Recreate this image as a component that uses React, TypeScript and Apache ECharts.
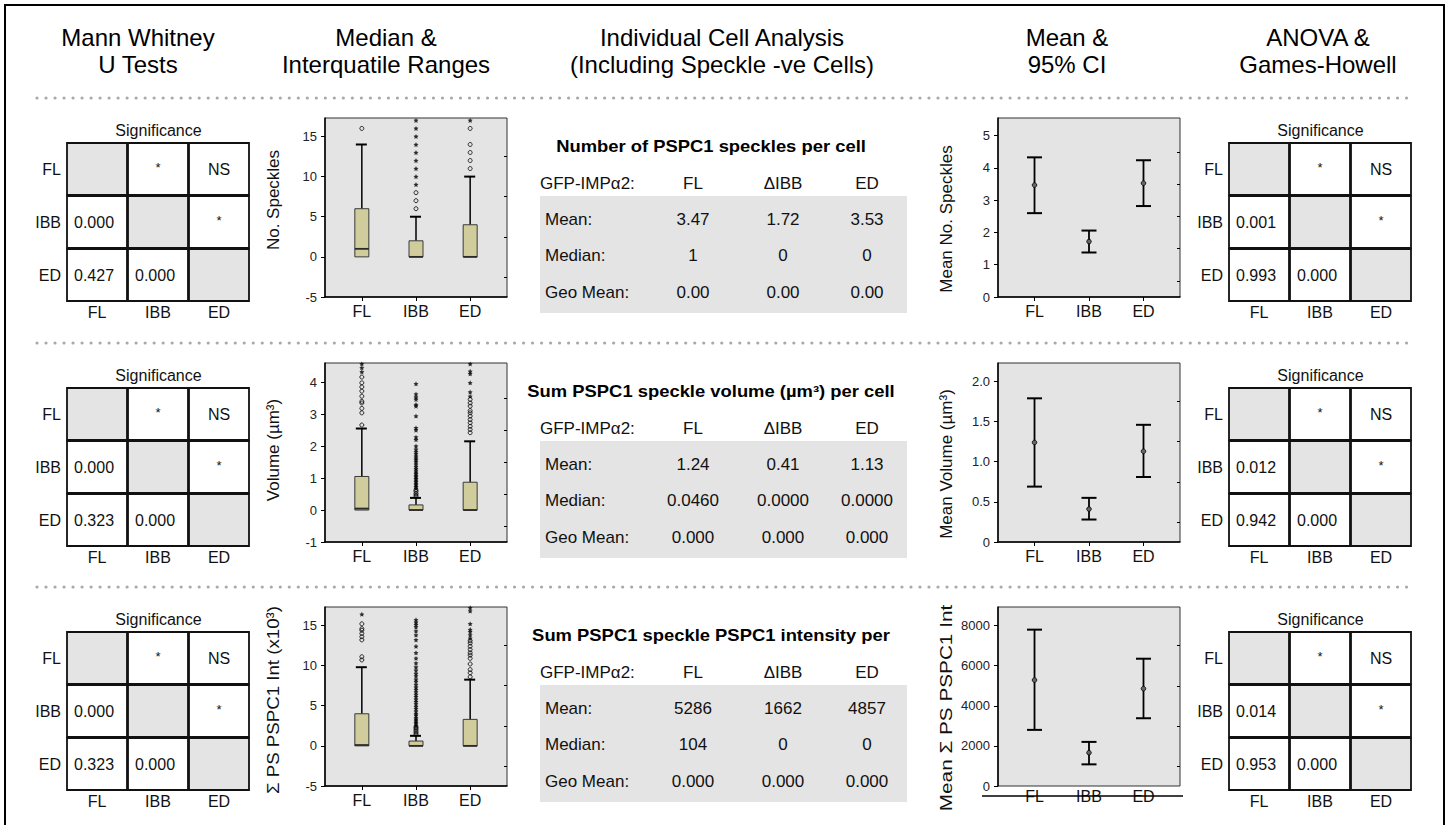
import React, { useEffect, useRef } from "react";
import * as echarts from "echarts";

const FONT = '"Liberation Sans", Arial, Helvetica, sans-serif';

// ---------- data ----------
const groups = ["FL", "IBB", "ED"];
const groupPos = [1, 2, 3];
const tableGroups = ["FL", "ΔIBB", "ED"];

const headerTexts = [
  ["Mann Whitney", "U Tests"],
  ["Median &", "Interquatile Ranges"],
  ["Individual Cell Analysis", "(Including Speckle -ve Cells)"],
  ["Mean &", "95% CI"],
  ["ANOVA &", "Games-Howell"],
];

// significance marks above the diagonal: FL–IBB, FL–ED, IBB–ED
const sigMarks = ["*", "NS", "*"];
// p values below the diagonal: IBB–FL, ED–FL, ED–IBB (one list per measure)
const mwPValues = [
  ["0.000", "0.427", "0.000"],
  ["0.000", "0.323", "0.000"],
  ["0.000", "0.323", "0.000"],
];
const ghPValues = [
  ["0.001", "0.993", "0.000"],
  ["0.012", "0.942", "0.000"],
  ["0.014", "0.953", "0.000"],
];

const tableTitles = [
  "Number of PSPC1 speckles per cell",
  "Sum PSPC1 speckle volume (µm³) per cell",
  "Sum PSPC1 speckle PSPC1 intensity per",
];
const statLabels = ["Mean:", "Median:", "Geo Mean:"];
const speckStats = [["3.47", "1.72", "3.53"], ["1", "0", "0"], ["0.00", "0.00", "0.00"]];
const volumeStats = [["1.24", "0.41", "1.13"], ["0.0460", "0.0000", "0.0000"], ["0.000", "0.000", "0.000"]];
const intensityStats = [["5286", "1662", "4857"], ["104", "0", "0"], ["0.000", "0.000", "0.000"]];

const boxTitles = ["No. Speckles", "Volume (µm³)", "Σ PS PSPC1 Int (x10³)"];
const meanTitles = ["Mean No. Speckles", "Mean Volume (µm³)", "Mean Σ PS PSPC1 Int"];

// box plots: [group, min, q1, median, q3, max]
const speckBox = [[1, 0, 0, 1, 6, 14], [2, 0, 0, 0, 2, 5], [3, 0, 0, 0, 4, 10]];
const speckCircles = [[1, 16], [2, 6], [2, 7], [2, 8], [3, 11], [3, 12], [3, 13], [3, 14], [3, 16]];
const speckStars = [[2, 9], [2, 10], [2, 11], [2, 12], [2, 13], [2, 14], [2, 15], [2, 16], [2, 17], [3, 17]];

const volumeBox = [[1, 0, 0, 0.046, 1.05, 2.55], [2, 0, 0, 0, 0.16, 0.38], [3, 0, 0, 0, 0.87, 2.15]];
const volumeCircles = [
  [1, 2.66], [1, 3.04], [1, 3.18], [1, 3.35], [1, 3.4], [1, 3.56], [1, 3.72], [1, 3.85], [1, 3.98], [1, 4.16],
  [2, 0.42], [2, 0.47], [2, 0.52], [2, 0.58], [2, 0.63],
  [3, 2.42], [3, 2.52], [3, 2.62], [3, 2.73], [3, 2.83], [3, 2.94], [3, 3.04], [3, 3.11], [3, 3.25], [3, 3.35], [3, 3.46],
];
const volumeStars = [
  [1, 4.32], [1, 4.45], [1, 4.57],
  [2, 0.68], [2, 0.73], [2, 0.78], [2, 0.83], [2, 0.88], [2, 0.93], [2, 0.98], [2, 1.03], [2, 1.08], [2, 1.13],
  [2, 1.18], [2, 1.24], [2, 1.3], [2, 1.36], [2, 1.43], [2, 1.5], [2, 1.56], [2, 1.62], [2, 1.68], [2, 1.75],
  [2, 1.82], [2, 1.9], [2, 2.0], [2, 2.2], [2, 2.28], [2, 2.5], [2, 2.57], [2, 2.94], [2, 3.25], [2, 3.3],
  [2, 3.46], [2, 3.53], [2, 3.63], [2, 3.95],
  [3, 3.56], [3, 3.69], [3, 3.98], [3, 4.26], [3, 4.34], [3, 4.57],
];

const intensityBox = [[1, 0, 0, 0.104, 4.0, 9.8], [2, 0, 0, 0, 0.6, 1.25], [3, 0, 0, 0, 3.3, 8.25]];
const intensityCircles = [
  [1, 10.7], [1, 11.1], [1, 13.2], [1, 13.6], [1, 14.0], [1, 14.4], [1, 14.6], [1, 15.2],
  [2, 1.4], [2, 1.6], [2, 1.8], [2, 2.0], [2, 2.2], [2, 2.35],
  [3, 8.6], [3, 9.1], [3, 9.5], [3, 10.2], [3, 10.9], [3, 11.3], [3, 11.6], [3, 12.0], [3, 12.4], [3, 12.8], [3, 13.1],
];
const intensityStars = [
  [1, 16.4],
  [2, 2.5], [2, 2.7], [2, 2.9], [2, 3.1], [2, 3.3], [2, 3.5], [2, 3.8], [2, 4.0], [2, 4.3], [2, 4.6], [2, 4.9],
  [2, 5.2], [2, 5.5], [2, 5.8], [2, 6.1], [2, 6.4], [2, 6.7], [2, 7.0], [2, 7.3], [2, 7.6], [2, 8.0], [2, 8.3],
  [2, 8.7], [2, 9.0], [2, 9.4], [2, 9.8], [2, 10.3], [2, 10.9], [2, 11.6], [2, 12.4], [2, 13.2], [2, 13.8],
  [2, 14.3], [2, 14.8], [2, 15.1], [2, 15.4], [2, 15.7],
  [3, 13.4], [3, 13.8], [3, 14.2], [3, 14.5], [3, 15.2], [3, 16.8], [3, 17.2],
];

// means with 95% CI: [group, mean, lower, upper]
const speckMeanCI = [[1, 3.47, 2.6, 4.33], [2, 1.72, 1.38, 2.06], [3, 3.53, 2.82, 4.24]];
const volumeMeanCI = [[1, 1.24, 0.69, 1.79], [2, 0.41, 0.28, 0.55], [3, 1.13, 0.81, 1.46]];
const intensityMeanCI = [[1, 5286, 2800, 7800], [2, 1662, 1080, 2200], [3, 4857, 3380, 6350]];

// axis ticks
const speckBoxTicks = [-5, 0, 5, 10, 15];
const speckBoxMinor = [-2.5, 2.5, 7.5, 12.5];
const volumeBoxTicks = [-1, 0, 1, 2, 3, 4];
const volumeBoxMinor = [-0.5, 0.5, 1.5, 2.5, 3.5];
const intensityBoxTicks = [-5, 0, 5, 10, 15];
const intensityBoxMinor = [-2.5, 2.5, 7.5, 12.5];
const speckMeanTicks = [0, 1, 2, 3, 4, 5];
const speckMeanMinor = [0.5, 1.5, 2.5, 3.5, 4.5];
const volumeMeanTicks = [0, 0.5, 1.0, 1.5, 2.0];
const volumeMeanMinor = [0.25, 0.75, 1.25, 1.75];
const intensityMeanTicks = [0, 2000, 4000, 6000, 8000];
const intensityMeanMinor = [1000, 3000, 5000, 7000];

// ---------- layout ----------
const ROW_Y = [98, 343, 587];
const BOX_LEFT = 325;
const MEAN_LEFT = 998;
const PLOT_W = 182;
const PLOT_H = 179;
const MW_X = 67;
const GH_X = 1229;
const CELL_W = 61;
const CELL_H = 53;
const HEADER_X = [138, 386, 722, 1067, 1318];
const TABLE_X = 540;
const TABLE_W = 367;
const TABLE_COLS = [693, 783, 867];
const BOX_TITLE_DY = [102, 107, 113];
const BOX_TITLE_SX = [1, 1, 1.1];
const MEAN_TITLE_SX = [1, 1, 1.22];

const BG = "#e4e4e4";
const STAR = "path://M0,-10L2.9,-4L9.5,-3.1L4.8,1.5L5.9,8.1L0,5L-5.9,8.1L-4.8,1.5L-9.5,-3.1L-2.9,-4Z";

function T(x: number, y: number, text: string, size: number, o: any = {}) {
  return {
    type: "text",
    x,
    y,
    silent: true,
    rotation: o.rotation || 0,
    scaleX: o.scaleX || 1,
    style: {
      text,
      fontSize: size,
      fontFamily: FONT,
      fontWeight: o.weight || "normal",
      fill: o.fill || "#111",
      textAlign: o.align || "center",
      textVerticalAlign: "middle",
    },
  };
}

function renderBox(params: any, api: any) {
  const x = api.value(0);
  const c = (v: number) => api.coord([x, v]);
  const [cx, yMin] = c(api.value(1));
  const yQ1 = c(api.value(2))[1];
  const yMed = c(api.value(3))[1];
  const yQ3 = c(api.value(4))[1];
  const yMax = c(api.value(5))[1];
  const hw = 7;
  const children: any[] = [
    { type: "line", shape: { x1: cx, y1: yQ3, x2: cx, y2: yMax }, style: { stroke: "#000", lineWidth: 1.5 } },
    { type: "line", shape: { x1: cx - 6, y1: yMax, x2: cx + 5, y2: yMax }, style: { stroke: "#000", lineWidth: 2 } },
  ];
  if (yMin - yQ1 > 0.5) {
    children.push({ type: "line", shape: { x1: cx, y1: yQ1, x2: cx, y2: yMin }, style: { stroke: "#000", lineWidth: 1.5 } });
    children.push({ type: "line", shape: { x1: cx - 6, y1: yMin, x2: cx + 5, y2: yMin }, style: { stroke: "#000", lineWidth: 2 } });
  }
  children.push({
    type: "rect",
    shape: { x: cx - hw, y: yQ3, width: hw * 2, height: Math.max(yQ1 - yQ3, 1) },
    style: { fill: "#d0cc9c", stroke: "#3a3a3a", lineWidth: 1 },
  });
  children.push({ type: "line", shape: { x1: cx - hw, y1: yMed, x2: cx + hw, y2: yMed }, style: { stroke: "#2a2a2a", lineWidth: 1.8 } });
  return { type: "group", children };
}

function renderMean(params: any, api: any) {
  const x = api.value(0);
  const [cx, yM] = api.coord([x, api.value(1)]);
  const yLo = api.coord([x, api.value(2)])[1];
  const yHi = api.coord([x, api.value(3)])[1];
  const hw = 7.5;
  return {
    type: "group",
    children: [
      { type: "line", shape: { x1: cx, y1: yLo, x2: cx, y2: yHi }, style: { stroke: "#000", lineWidth: 1.8 } },
      { type: "line", shape: { x1: cx - hw, y1: yHi, x2: cx + hw, y2: yHi }, style: { stroke: "#000", lineWidth: 2 } },
      { type: "line", shape: { x1: cx - hw, y1: yLo, x2: cx + hw, y2: yLo }, style: { stroke: "#000", lineWidth: 2 } },
      { type: "circle", shape: { cx, cy: yM, r: 2.3 }, style: { fill: "#666", stroke: "#000", lineWidth: 0.8 } },
    ],
  };
}

function buildOption() {
  const grids: any[] = [];
  const xAxes: any[] = [];
  const yAxes: any[] = [];
  const series: any[] = [];
  const els: any[] = [];

  const addGrid = (left: number, top: number, xMin: number, xMax: number, yCfg: any, shifted = false) => {
    const gi = grids.length;
    grids.push({
      left, top, width: PLOT_W, height: PLOT_H, show: true,
      backgroundColor: BG, borderColor: "#333", borderWidth: 1, containLabel: false,
    });
    xAxes.push({
      type: "value", gridIndex: gi, min: xMin, max: xMax,
      offset: shifted ? 10 : 0,
      axisLine: { show: !shifted, onZero: false, lineStyle: { color: "#000", width: 1.5 } },
      axisTick: { show: !shifted, customValues: groupPos, length: 4, lineStyle: { color: "#000" } },
      axisLabel: {
        customValues: groupPos, margin: shifted ? -8 : 6, fontSize: 16, color: "#111", fontFamily: FONT,
        formatter: (v: number) => groups[Math.round(v) - 1] || "",
      },
      splitLine: { show: false },
    });
    const yi = yAxes.length;
    yAxes.push({
      type: "value", gridIndex: gi, min: yCfg.min, max: yCfg.max,
      axisLine: { show: true, onZero: false, lineStyle: { color: "#000", width: 1.5 } },
      axisTick: { show: true, customValues: yCfg.ticks, length: 4, lineStyle: { color: "#000" } },
      axisLabel: {
        customValues: yCfg.ticks, margin: 8, fontSize: 13, color: "#222", fontFamily: FONT,
        formatter: yCfg.fmt || ((v: number) => String(v)),
      },
      splitLine: { show: false },
    });
    yAxes.push({
      type: "value", gridIndex: gi, min: yCfg.min, max: yCfg.max,
      axisLine: { show: false, onZero: false },
      axisTick: { show: true, inside: true, customValues: yCfg.minor, length: 3, lineStyle: { color: "#000" } },
      axisLabel: { show: false },
      splitLine: { show: false },
    });
    return { gi, yi };
  };

  const rows = [
    {
      box: speckBox, circles: speckCircles, stars: speckStars, mean: speckMeanCI, stats: speckStats,
      boxY: { min: -5, max: 17.3, ticks: speckBoxTicks, minor: speckBoxMinor },
      meanY: { min: 0, max: 5.55, ticks: speckMeanTicks, minor: speckMeanMinor },
    },
    {
      box: volumeBox, circles: volumeCircles, stars: volumeStars, mean: volumeMeanCI, stats: volumeStats,
      boxY: { min: -1, max: 4.6, ticks: volumeBoxTicks, minor: volumeBoxMinor },
      meanY: {
        min: 0, max: 2.23, ticks: volumeMeanTicks, minor: volumeMeanMinor,
        fmt: (v: number) => (v === 0 ? "0" : v.toFixed(1)),
      },
    },
    {
      box: intensityBox, circles: intensityCircles, stars: intensityStars, mean: intensityMeanCI, stats: intensityStats,
      boxY: { min: -5, max: 17.3, ticks: intensityBoxTicks, minor: intensityBoxMinor },
      meanY: { min: 0, max: 8930, ticks: intensityMeanTicks, minor: intensityMeanMinor },
    },
  ];

  // frame
  els.push({ type: "rect", silent: true, shape: { x: 5, y: 5, width: 1439, height: 840 }, style: { fill: "none", stroke: "#000", lineWidth: 2 } });

  // headers
  headerTexts.forEach((lines, i) => {
    els.push(T(HEADER_X[i], 37, lines[0], 24, { fill: "#000" }));
    els.push(T(HEADER_X[i], 64, lines[1], 24, { fill: "#000" }));
  });

  rows.forEach((row, r) => {
    const D = ROW_Y[r];
    const top = D + 20;

    // dotted separator
    els.push({
      type: "line", silent: true,
      shape: { x1: 37, y1: D, x2: 1412, y2: D },
      style: { stroke: "#a9a9a9", lineWidth: 3.2, lineDash: [0.01, 9], lineCap: "round" },
    });

    // significance matrices
    [[MW_X, mwPValues[r]], [GH_X, ghPValues[r]]].forEach(([x0, pv]: any) => {
      els.push(T(x0 + 91.5, D + 32, "Significance", 16));
      for (let i = 0; i < 3; i++) {
        for (let j = 0; j < 3; j++) {
          const cx = x0 + j * CELL_W;
          const cy = D + 45 + i * CELL_H;
          els.push({
            type: "rect", silent: true,
            shape: { x: cx, y: cy, width: CELL_W - 1, height: CELL_H - 1 },
            style: { fill: i === j ? BG : "#fff", stroke: "#111", lineWidth: 1.8 },
          });
        }
      }
      for (let i = 0; i < 3; i++) {
        els.push(T(x0 - 6, D + 45 + i * CELL_H + 26, groups[i], 16, { align: "right" }));
        els.push(T(x0 + i * CELL_W + 30, D + 214, groups[i], 16));
      }
      const upper = [[0, 1], [0, 2], [1, 2]];
      upper.forEach(([i, j], k) => {
        const isStar = sigMarks[k] === "*";
        els.push(T(x0 + j * CELL_W + 30, D + 45 + i * CELL_H + (isStar ? 24 : 26), sigMarks[k], isStar ? 13 : 16));
      });
      const lower = [[1, 0], [2, 0], [2, 1]];
      lower.forEach(([i, j], k) => {
        els.push(T(x0 + j * CELL_W + 7, D + 45 + i * CELL_H + 26, pv[k], 16, { align: "left" }));
      });
    });

    // table
    els.push(T(711, D + 48, tableTitles[r], 16, { weight: "bold", fill: "#000", scaleX: 1.15 }));
    els.push(T(TABLE_X, D + 85, "GFP-IMPα2:", 17, { align: "left" }));
    tableGroups.forEach((g, j) => els.push(T(TABLE_COLS[j], D + 85, g, 17)));
    els.push({ type: "rect", silent: true, shape: { x: TABLE_X, y: D + 98, width: TABLE_W, height: 117 }, style: { fill: BG } });
    statLabels.forEach((lab, i) => {
      const yy = D + 121 + i * 36.5;
      els.push(T(TABLE_X + 5, yy, lab, 17, { align: "left" }));
      row.stats[i].forEach((v: string, j: number) => els.push(T(TABLE_COLS[j], yy, v, 17)));
    });

    // axis titles
    els.push(T(273, D + BOX_TITLE_DY[r], boxTitles[r], 17, { rotation: Math.PI / 2, scaleX: BOX_TITLE_SX[r] }));
    els.push(T(946, D + 121, meanTitles[r], 17, { rotation: Math.PI / 2, scaleX: MEAN_TITLE_SX[r] }));

    // box plot grid
    const b = addGrid(BOX_LEFT, top, 0.32, 3.68, row.boxY);
    series.push({
      type: "custom", xAxisIndex: b.gi, yAxisIndex: b.yi, data: row.box,
      encode: { x: 0, y: [1, 2, 3, 4, 5] }, renderItem: renderBox, silent: true, z: 3,
    });
    series.push({
      type: "scatter", xAxisIndex: b.gi, yAxisIndex: b.yi, data: row.circles, symbol: "circle", symbolSize: 4,
      itemStyle: { color: "rgba(0,0,0,0)", borderColor: "#000", borderWidth: 1 }, silent: true, z: 4,
    });
    series.push({
      type: "scatter", xAxisIndex: b.gi, yAxisIndex: b.yi, data: row.stars, symbol: STAR, symbolSize: 5,
      itemStyle: { color: "#000" }, silent: true, z: 4,
    });

    // mean CI grid (the last one has its category axis drawn slightly below the plot)
    const shifted = r === 2;
    const m = addGrid(MEAN_LEFT, top, 0.33, 3.67, row.meanY, shifted);
    series.push({
      type: "custom", xAxisIndex: m.gi, yAxisIndex: m.yi, data: row.mean,
      encode: { x: 0, y: [1, 2, 3] }, renderItem: renderMean, silent: true, z: 3,
    });
    if (shifted) {
      els.push({
        type: "line", silent: true, z: 10,
        shape: { x1: 982, y1: top + PLOT_H + 10, x2: 1183, y2: top + PLOT_H + 10 },
        style: { stroke: "#000", lineWidth: 1.5 },
      });
    }
  });

  return {
    animation: false,
    textStyle: { fontFamily: FONT },
    grid: grids,
    xAxis: xAxes,
    yAxis: yAxes,
    series,
    graphic: { elements: els },
  };
}

export default function App() {
  const ref = useRef<HTMLDivElement>(null);
  useEffect(() => {
    const chart = echarts.init(ref.current as HTMLDivElement, null, { renderer: "svg" });
    chart.setOption(buildOption() as any);
    return () => chart.dispose();
  }, []);
  return (
    <div
      ref={ref}
      style={{ position: "fixed", left: 0, top: 0, width: 1450, height: 825, background: "#fff" }}
    />
  );
}
